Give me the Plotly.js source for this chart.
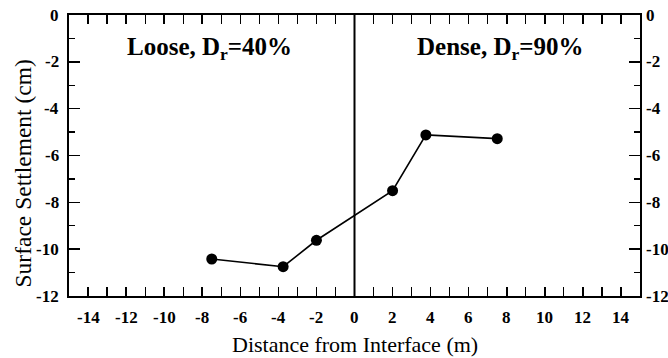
<!DOCTYPE html>
<html>
<head>
<meta charset="utf-8">
<script src="https://cdn.plot.ly/plotly-3.0.1.min.js"></script>
<style>html,body{margin:0;padding:0;background:#fff;}#chart{width:668px;height:358px;}</style>
</head>
<body>
<div id="chart"></div>
<script>
// Data
var distance = [-7.5, -3.75, -2, 2, 3.75, 7.5];
var settlement = [-10.42, -10.75, -9.62, -7.5, -5.12, -5.28];
var interfaceX = [0, 0];
var interfaceY = [0, -12];
var xRange = [-15, 15];
var yRange = [-12, 0];
var xTickVals = [-14, -12, -10, -8, -6, -4, -2, 0, 2, 4, 6, 8, 10, 12, 14];
var xTickText = ['-14', '-12', '-10', '-8', '-6', '-4', '-2', '0', '2', '4', '6', '8', '10', '12', '14'];
var yTickVals = [0, -2, -4, -6, -8, -10, -12];
var yTickText = ['0', '-2', '-4', '-6', '-8', '-10', '-12'];
var regionLabels = ['Loose, D<sub>r</sub>=40%', 'Dense, D<sub>r</sub>=90%'];
var regionLabelX = [-7.6, 7.65];
var regionLabelY = [-1.45, -1.45];
var xTitle = 'Distance from Interface (m)';
var yTitle = 'Surface Settlement (cm)';

var serif = 'Liberation Serif';
var tickFont = {family: serif, size: 17, color: '#000'};

var traces = [
  {
    x: interfaceX, y: interfaceY, mode: 'lines',
    line: {color: '#000', width: 2}, hoverinfo: 'skip', showlegend: false
  },
  {
    x: distance, y: settlement, mode: 'lines+markers',
    line: {color: '#000', width: 1.6},
    marker: {color: '#000', size: 11},
    showlegend: false
  },
  {
    x: interfaceX, y: interfaceY, yaxis: 'y2', mode: 'lines',
    line: {color: 'rgba(0,0,0,0)', width: 0}, hoverinfo: 'skip', showlegend: false
  }
];

function yAxis(extra) {
  var a = {
    range: yRange, tickmode: 'array', tickvals: yTickVals, showticklabels: false,
    ticks: 'inside', ticklen: 11, tickwidth: 1.5, tickcolor: '#000',
    minor: {ticks: 'inside', dtick: 1, tick0: 0, ticklen: 6, tickwidth: 1.2, tickcolor: '#000', showgrid: false},
    showline: true, linecolor: '#000', linewidth: 2,
    showgrid: false, zeroline: false
  };
  for (var k in extra) a[k] = extra[k];
  return a;
}

var annotations = regionLabels.map(function (t, i) {
  return {
    x: regionLabelX[i], y: regionLabelY[i], xref: 'x', yref: 'y',
    text: '<b>' + t + '</b>', showarrow: false,
    font: {family: serif, size: 25, color: '#000'}
  };
});
// tick labels (bold serif, plain hyphen minus as in the reference)
xTickVals.forEach(function (v, i) {
  annotations.push({
    x: v, xref: 'x', y: 0, yref: 'paper', yanchor: 'middle', xanchor: 'center',
    yshift: -21.5, showarrow: false, text: '<b>' + xTickText[i] + '</b>', font: tickFont
  });
});
yTickVals.forEach(function (v, i) {
  annotations.push({
    x: 0, xref: 'paper', y: v, yref: 'y', xanchor: 'right', yanchor: 'middle',
    xshift: -8, showarrow: false, text: '<b>' + yTickText[i] + '</b>', font: tickFont
  });
  annotations.push({
    x: 1, xref: 'paper', y: v, yref: 'y', xanchor: 'left', yanchor: 'middle',
    xshift: 4, showarrow: false, text: '<b>' + yTickText[i] + '</b>', font: tickFont
  });
});
annotations.push({
  x: 0, y: 0.5, xref: 'paper', yref: 'paper', xanchor: 'center', yanchor: 'middle',
  xshift: -47, yshift: -18, textangle: -90, showarrow: false,
  text: yTitle, font: {family: serif, size: 23.5, color: '#000'}
});
annotations.push({
  x: 0.5, y: 0, xref: 'paper', yref: 'paper', xanchor: 'center', yanchor: 'middle',
  yshift: -48, showarrow: false,
  text: xTitle, font: {family: serif, size: 22, color: '#000'}
});

var layout = {
  width: 668, height: 358,
  margin: {l: 69, r: 28, t: 15, b: 62, pad: 0},
  paper_bgcolor: '#fff', plot_bgcolor: '#fff',
  font: {family: serif, size: 17, color: '#000'},
  showlegend: false,
  xaxis: {
    range: xRange, tickmode: 'array', tickvals: xTickVals, showticklabels: false,
    ticks: 'inside', ticklen: 9, tickwidth: 1.5, tickcolor: '#000',
    minor: {ticks: 'inside', dtick: 1, tick0: 0, ticklen: 5, tickwidth: 1.2, tickcolor: '#000', showgrid: false},
    showline: true, linecolor: '#000', linewidth: 2, mirror: 'allticks',
    showgrid: false, zeroline: false
  },
  yaxis: yAxis({}),
  yaxis2: yAxis({overlaying: 'y', side: 'right'}),
  annotations: annotations
};

Plotly.newPlot('chart', traces, layout, {displayModeBar: false, staticPlot: true});
</script>
</body>
</html>
